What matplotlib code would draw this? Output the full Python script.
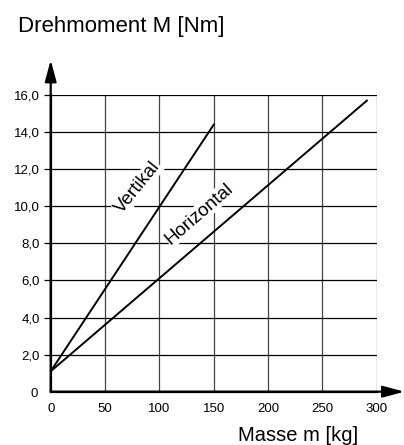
import matplotlib
matplotlib.use("Agg")
import matplotlib.pyplot as plt

plt.rcParams['font.family'] = ['Liberation Sans', 'DejaVu Sans']

x_ticks = [0, 50, 100, 150, 200, 250, 300]
y_ticks = [2, 4, 6, 8, 10, 12, 14, 16]
y_tick_labels = ["2,0", "4,0", "6,0", "8,0", "10,0", "12,0", "14,0", "16,0"]

vertikal_m = [0, 150]
vertikal_M = [1.1, 14.4]
horizontal_m = [0, 291]
horizontal_M = [1.1, 15.7]

fig = plt.figure(figsize=(4.04, 4.45), dpi=100)
ax = fig.add_axes([0.1255, 0.1198, 0.8069, 0.6667])
ax.set_xlim(0, 300)
ax.set_ylim(0, 16)

for xv in x_ticks[1:]:
    ax.axvline(xv, color="#444444", lw=0.9, zorder=1)
for yv in y_ticks:
    ax.axhline(yv, color="black", lw=0.9, zorder=1)

ax.plot(vertikal_m, vertikal_M, color="black", lw=1.4, zorder=3)
ax.plot(horizontal_m, horizontal_M, color="black", lw=1.4, zorder=3)

ax.text(80, 11.0, "Vertikal", rotation=51, ha="center", va="center", fontsize=13.5,
        bbox=dict(facecolor="white", edgecolor="none", pad=0.5), zorder=2)
ax.text(137, 9.6, "Horizontal", rotation=41, ha="center", va="center", fontsize=13.5,
        bbox=dict(facecolor="white", edgecolor="none", pad=0.5), zorder=2)

for s in ["top", "right"]:
    ax.spines[s].set_visible(False)
for s in ["left", "bottom"]:
    ax.spines[s].set_linewidth(1.6)
    ax.spines[s].set_zorder(4)

ax.set_xticks(x_ticks)
ax.set_xticklabels([str(v) for v in x_ticks])
ax.set_yticks(y_ticks)
ax.set_yticklabels(y_tick_labels)
ax.tick_params(axis="x", length=0, pad=8, labelsize=9.5)
ax.tick_params(axis="y", length=5, width=0.9, pad=3, labelsize=9.5)
ax.text(-12, -0.15, "0", ha="right", va="center", fontsize=9.5)

ax.annotate("", xy=(1.085, 0), xytext=(0, 0), xycoords="axes fraction",
            arrowprops=dict(arrowstyle="-|>,head_length=1.3,head_width=0.35", color="black", lw=1.6,
                            shrinkA=0, shrinkB=0), annotation_clip=False)
ax.annotate("", xy=(0, 1.118), xytext=(0, 0), xycoords="axes fraction",
            arrowprops=dict(arrowstyle="-|>,head_length=1.3,head_width=0.35", color="black", lw=1.6,
                            shrinkA=0, shrinkB=0), annotation_clip=False)

fig.text(18/404, 1 - 32/445, "Drehmoment M [Nm]", fontsize=16, ha="left", va="baseline")
fig.text(358/404, 1 - 441/445, "Masse m [kg]", fontsize=14.5, ha="right", va="baseline")

fig.savefig("out.png", dpi=100)
